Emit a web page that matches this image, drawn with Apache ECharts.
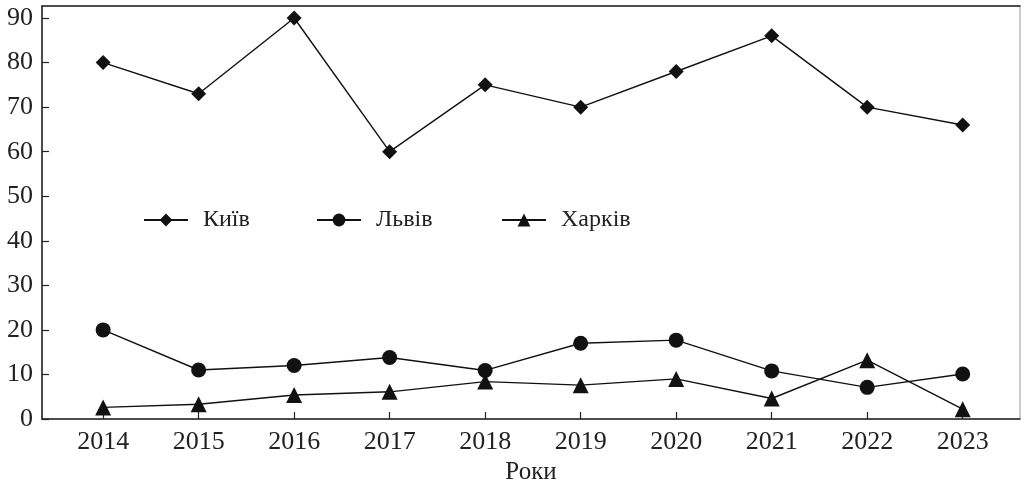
<!DOCTYPE html>
<html><head><meta charset="utf-8">
<script src="https://cdn.jsdelivr.net/npm/echarts@6/dist/echarts.min.js"></script>
<style>html,body{margin:0;padding:0;background:#fff}#c{width:1024px;height:481px}</style>
</head><body><div id="c"></div>
<script>
var years = [2014, 2015, 2016, 2017, 2018, 2019, 2020, 2021, 2022, 2023];
var kyiv = [80, 73, 90, 60, 75, 70, 78, 86, 70, 66];
var lviv = [20, 11, 12, 13.8, 10.9, 17, 17.7, 10.8, 7.1, 10.1];
var kharkiv = [2.6, 3.3, 5.4, 6.1, 8.4, 7.6, 9.0, 4.6, 13.2, 2.2];
var yTicks = [0, 10, 20, 30, 40, 50, 60, 70, 80, 90];
var names = ['Київ', 'Львів', 'Харків'];
var xName = 'Роки';

var FONT = 'Liberation Serif';
function pairs(v){ return years.map(function(y,i){ return [y, v[i]]; }); }
function ser(name, data, symbol, size){
  return {name:name, type:'line', data:pairs(data), symbol:symbol, symbolSize:size,
    itemStyle:{color:'#111'}, lineStyle:{color:'#111', width:1.4}, z:3};
}
function leg(name, left){
  return {data:[name], left:left, top:208, padding:0, itemWidth:44, itemHeight:16,
    textStyle:{fontFamily:FONT, fontSize:24, color:'#222', padding:[0,0,0,10]}};
}
var chart = echarts.init(document.getElementById('c'));
chart.setOption({
  animation:false,
  backgroundColor:'#fff',
  grid:{left:42, right:4, top:6, bottom:62, show:true, borderColor:'#999', borderWidth:1, containLabel:false, outerBoundsMode:'none'},
  legend:[leg(names[0],143), leg(names[1],316), leg(names[2],501)],
  xAxis:[{
    type:'value', min:2013.36, max:2023.6,
    name:xName, nameLocation:'middle', nameGap:38,
    nameTextStyle:{fontFamily:FONT, fontSize:25, color:'#222'},
    axisLine:{lineStyle:{color:'#222', width:1.5}},
    axisTick:{inside:true, length:7, lineStyle:{color:'#222', width:1.2}, customValues:years},
    axisLabel:{fontFamily:FONT, fontSize:26, color:'#222', margin:10, customValues:years, formatter:function(v){return String(v);}},
    splitLine:{show:false}
  },{
    type:'value', position:'top', min:2013.36, max:2023.6,
    axisLine:{show:true, lineStyle:{color:'#222', width:1.5}},
    axisTick:{show:false}, axisLabel:{show:false}, splitLine:{show:false}
  }],
  yAxis:{
    type:'value', min:0, max:92.7,
    axisLine:{show:true, lineStyle:{color:'#222', width:1.5}},
    axisTick:{show:true, inside:true, length:7, lineStyle:{color:'#222', width:1.2}, customValues:yTicks},
    axisLabel:{fontFamily:FONT, fontSize:26, color:'#222', margin:9, customValues:yTicks},
    splitLine:{show:false}
  },
  series:[
    ser(names[0], kyiv, 'diamond', 15),
    ser(names[1], lviv, 'circle', 15),
    ser(names[2], kharkiv, 'triangle', 16)
  ]
});
</script></body></html>
